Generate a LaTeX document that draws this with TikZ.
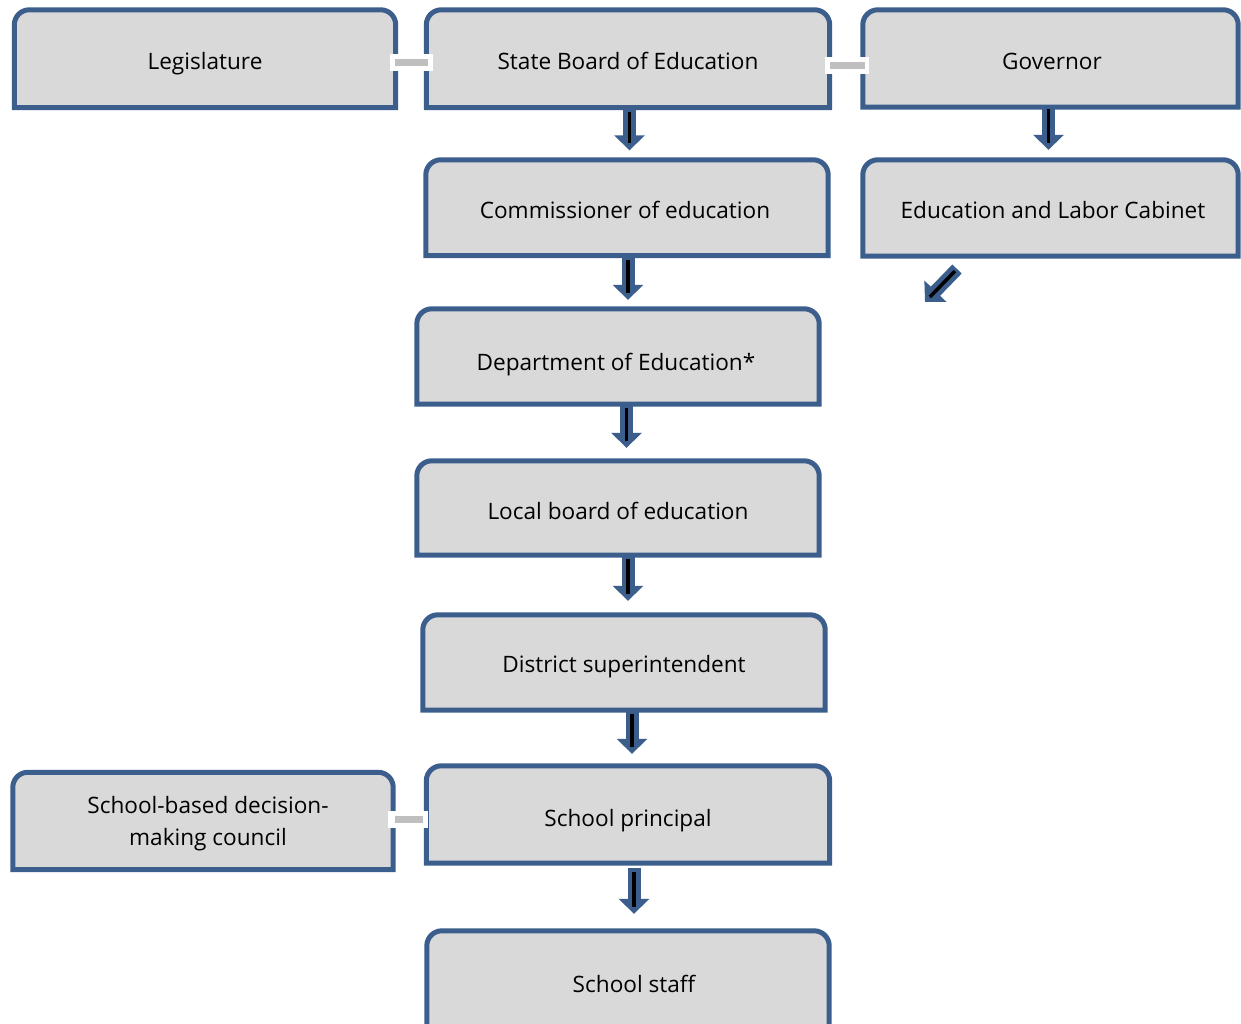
\documentclass[tikz,border=0pt]{standalone}
\usepackage{fontspec}
\setmainfont{Open Sans}
\usetikzlibrary{arrows.meta,backgrounds,calc}
\definecolor{boxfill}{HTML}{D9D9D9}
\definecolor{boxline}{HTML}{3B5E8C}
\definecolor{linkgray}{HTML}{BFBFBF}
% name, x, y, width, height, baseline offset below centre, text
\newcommand\orgnode[7]{\node[orgbox, minimum width=#4pt, minimum height=#5pt, text height=2*#6pt, text depth=0pt] (#1) at (#2,#3) {#7};}
\newcommand\orgoutline[1]{\filldraw[boxshape] (#1.south west) [rounded corners=15pt] -- (#1.north west) -- (#1.north east) [sharp corners] -- (#1.south east) -- cycle;}
\newcommand\blockarr[5]{%
  \coordinate (#1-#2-s) at ([xshift=#3pt]#1.south);
  \draw[blockarrow, shorten <=#4pt, shorten >=#5pt] (#1-#2-s) -- (#1-#2-s |- #2.north);
  \draw[arrowcore, shorten <=#4pt+4pt, shorten >=#5pt+7pt] (#1-#2-s) -- (#1-#2-s |- #2.north);}
% from, to, white start dx, white end dx, gray start dx, gray end dx, dy (up)
\newcommand\graylink[7]{%
  \coordinate (#1-#2-a) at ([yshift=#7pt]#1.east);
  \coordinate (#1-#2-b) at (#1-#2-a -| #2.west);
  \draw[linkouter] ([xshift=#3pt]#1-#2-a) -- ([xshift=#4pt]#1-#2-b);
  \draw[linkinner] ([xshift=#5pt]#1-#2-a) -- ([xshift=#6pt]#1-#2-b);}
\begin{document}
\begin{tikzpicture}[x=1pt,y=-1pt,
  orgbox/.style={inner sep=0pt, align=center, font=\fontsize{22.6}{29}\selectfont, text=black},
  boxshape/.style={fill=boxfill, draw=boxline, line width=5pt},
  blockarrow/.style={draw=boxline, line width=13pt, -{Triangle[length=15pt,width=30pt]}},
  arrowcore/.style={draw=black, line width=3.5pt},
  linkouter/.style={draw=white, line width=17pt},
  linkinner/.style={draw=linkgray, line width=7pt},
]
\useasboundingbox (0,0) rectangle (1241,1023);
\orgnode{leg}{205}{58.75}{381}{97.5}{10.5}{Legislature}
\orgnode{sbe}{628}{58.75}{403}{97.5}{10.5}{State Board of Education}
\orgnode{gov}{1050.5}{58.5}{375}{97}{10.75}{\hspace*{3pt}Governor}
\orgnode{com}{627}{207.75}{402}{95.5}{10.5}{Commissioner of education\hspace*{4pt}}
\orgnode{cab}{1050.5}{208}{375}{96}{10.25}{\hspace*{5pt}Education and Labor Cabinet}
\orgnode{dep}{618}{356.5}{402}{95}{13.75}{Department of Education*\hspace*{4pt}}
\orgnode{loc}{618}{508}{402}{94}{11.25}{Local board of education}
\orgnode{dis}{624}{662.5}{402}{95}{9.75}{District superintendent}
\node[orgbox, minimum width=380pt, minimum height=97pt] (cou) at (203,821)
  {\raisebox{0pt}[18pt][33pt]{\hspace*{10pt}\fontsize{22.6}{32}\selectfont\begin{tabular}[t]{@{}c@{}}School-based decision-\\making council\end{tabular}}};
\orgnode{pri}{628}{814.5}{403}{97}{11.75}{School principal}
\orgnode{sta}{628}{980}{402}{98}{12.25}{\hspace*{12pt}School staff}
\begin{scope}[on background layer]
  \fill[white] (0,0) rectangle (1241,1023);
  \foreach \n in {leg,sbe,gov,com,cab,dep,loc,dis,cou,pri,sta}{\orgoutline{\n}}
\end{scope}
\blockarr{sbe}{com}{1.5}{0}{9.5}
\blockarr{gov}{cab}{-2}{-2}{10}
\blockarr{com}{dep}{1}{0}{9}
\blockarr{dep}{loc}{8.5}{0}{13}
\blockarr{loc}{dis}{10}{0}{14}
\blockarr{dis}{pri}{8}{0}{12}
\blockarr{pri}{sta}{6}{5}{17}
\coordinate (diagS) at (957,269);
\coordinate (diagE) at (925,302);
\draw[blockarrow] (diagS) -- (diagE);
\draw[arrowcore, shorten <=3pt, shorten >=7pt] (diagS) -- (diagE);
\graylink{leg}{sbe}{-5.5}{6.5}{-0.5}{1.5}{-3.75}
\graylink{sbe}{gov}{-4.5}{6}{0.5}{2}{-7}
\graylink{cou}{pri}{-5}{1.5}{2}{-3.5}{1.5}
\end{tikzpicture}
\end{document}
